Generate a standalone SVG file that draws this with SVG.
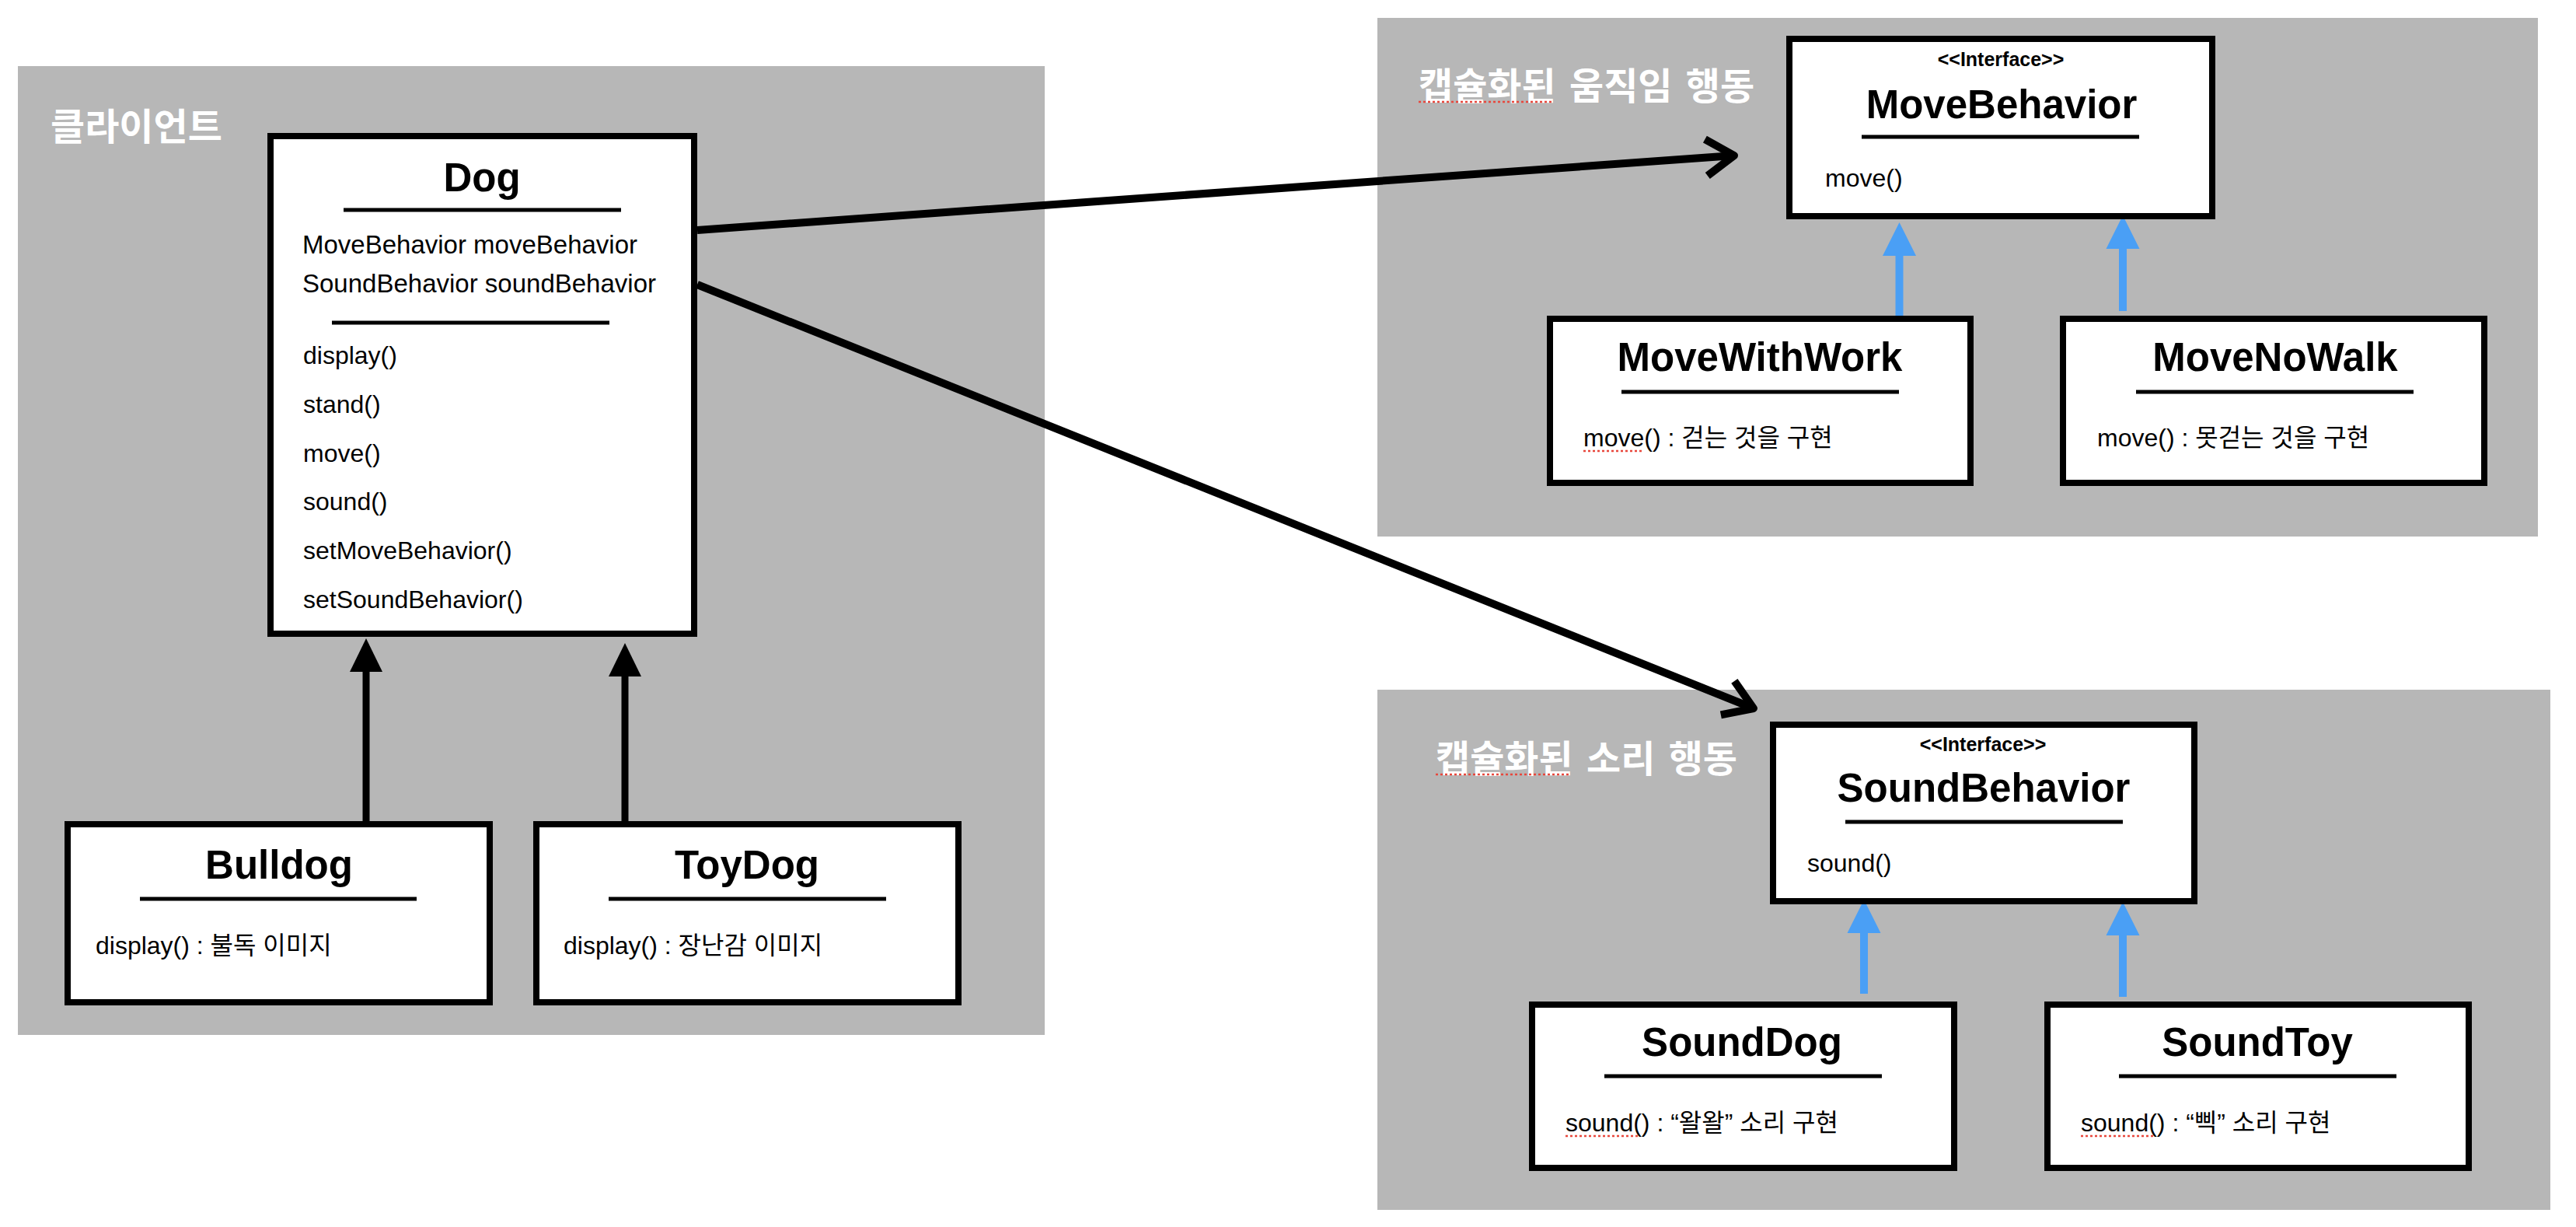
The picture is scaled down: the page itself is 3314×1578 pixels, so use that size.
<svg xmlns="http://www.w3.org/2000/svg" width="3314" height="1578" viewBox="0 0 3314 1578">
<style>
.panel{fill:#b7b7b7}
.box{fill:#fff;stroke:#000;stroke-width:8}
.rule{stroke:#000;stroke-width:5}
.t{font-family:"Liberation Sans","Noto Sans CJK KR",sans-serif;fill:#000}
.title{font-size:51px;font-weight:bold;text-anchor:middle}
.stereo{font-size:25px;font-weight:bold;text-anchor:middle}
.body{font-size:32px}
.attr{font-size:33px}
.label{font-family:"Liberation Sans","Noto Sans CJK KR",sans-serif;font-size:48px;font-weight:bold;fill:#fff;word-spacing:4px}
.sq{stroke:#e8473c;stroke-width:2.5;stroke-dasharray:3 3;fill:none}
.assoc{stroke:#000;stroke-width:10;fill:none}
.inh{stroke:#000;stroke-width:9}
.impl{stroke:#4a9ff5;stroke-width:10}
</style>
<defs>
<marker id="chev" markerUnits="userSpaceOnUse" orient="auto" overflow="visible" markerWidth="80" markerHeight="80">
<path d="M -36 -23.5 L 0 0 L -36 23.5" fill="none" stroke="#000" stroke-width="10" stroke-linejoin="round"/>
</marker>
<marker id="tri" markerUnits="userSpaceOnUse" orient="auto" overflow="visible" markerWidth="60" markerHeight="60">
<path d="M 0 -21 L 43 0 L 0 21 Z" fill="#000"/>
</marker>
<marker id="btri" markerUnits="userSpaceOnUse" orient="auto" overflow="visible" markerWidth="60" markerHeight="60">
<path d="M 0 -21.5 L 43 0 L 0 21.5 Z" fill="#4a9ff5"/>
</marker>
</defs>

<g id="panels">
<rect class="panel" x="23" y="85" width="1321" height="1246"/>
<rect class="panel" x="1772" y="23" width="1493" height="667"/>
<rect class="panel" x="1772" y="887" width="1509" height="669"/>
<text class="label" x="65" y="180">클라이언트</text>
<text class="label" x="1825" y="128">캡슐화된 움직임 행동</text>
<line class="sq" x1="1825" y1="131" x2="1998" y2="131"/>
<text class="label" x="1847" y="993">캡슐화된 소리 행동</text>
<line class="sq" x1="1847" y1="996" x2="2020" y2="996"/>
</g>

<g id="connectors">
<line class="assoc" x1="897" y1="296" x2="2231" y2="200" marker-end="url(#chev)"/>
<line class="assoc" x1="897" y1="366" x2="2256" y2="911" marker-end="url(#chev)"/>
<line class="inh" x1="471" y1="1056" x2="471" y2="864" marker-end="url(#tri)"/>
<line class="inh" x1="804" y1="1056" x2="804" y2="870" marker-end="url(#tri)"/>
<line class="impl" x1="2443.5" y1="409" x2="2443.5" y2="329" marker-end="url(#btri)"/>
<line class="impl" x1="2731" y1="400" x2="2731" y2="320" marker-end="url(#btri)"/>
<line class="impl" x1="2398" y1="1278" x2="2398" y2="1200" marker-end="url(#btri)"/>
<line class="impl" x1="2731" y1="1282" x2="2731" y2="1203" marker-end="url(#btri)"/>
</g>

<g id="Dog">
<rect class="box" x="348" y="175" width="545" height="640"/>
<text class="t title" x="620" y="246">Dog</text>
<line class="rule" x1="442" y1="270" x2="799" y2="270"/>
<text class="t attr" x="389" y="326">MoveBehavior moveBehavior</text>
<text class="t attr" x="389" y="376">SoundBehavior soundBehavior</text>
<line class="rule" x1="427" y1="415" x2="784" y2="415"/>
<text class="t body" x="390" y="468">display()</text>
<text class="t body" x="390" y="531">stand()</text>
<text class="t body" x="390" y="594">move()</text>
<text class="t body" x="390" y="656">sound()</text>
<text class="t body" x="390" y="719">setMoveBehavior()</text>
<text class="t body" x="390" y="782">setSoundBehavior()</text>
</g>

<g id="Bulldog">
<rect class="box" x="87" y="1060" width="543" height="229"/>
<text class="t title" x="359" y="1130">Bulldog</text>
<line class="rule" x1="180" y1="1156" x2="536" y2="1156"/>
<text class="t body" x="123" y="1227">display() : 불독 이미지</text>
</g>

<g id="ToyDog">
<rect class="box" x="690" y="1060" width="543" height="229"/>
<text class="t title" x="961" y="1130">ToyDog</text>
<line class="rule" x1="783" y1="1156" x2="1140" y2="1156"/>
<text class="t body" x="725" y="1227">display() : 장난감 이미지</text>
</g>

<g id="MoveBehavior">
<rect class="box" x="2302" y="50" width="544" height="228"/>
<text class="t stereo" x="2574" y="85">&lt;&lt;Interface&gt;&gt;</text>
<text class="t title" x="2575" y="152">MoveBehavior</text>
<line class="rule" x1="2395" y1="176" x2="2752" y2="176"/>
<text class="t body" x="2348" y="240">move()</text>
</g>

<g id="MoveWithWork">
<rect class="box" x="1994" y="410" width="541" height="211"/>
<text class="t title" x="2264" y="477">MoveWithWork</text>
<line class="rule" x1="2086" y1="504" x2="2443" y2="504"/>
<text class="t body" x="2037" y="574">move() : 걷는 것을 구현</text>
<line class="sq" x1="2037" y1="580" x2="2112" y2="580"/>
</g>

<g id="MoveNoWalk">
<rect class="box" x="2654" y="410" width="542" height="211"/>
<text class="t title" x="2927" y="477">MoveNoWalk</text>
<line class="rule" x1="2748" y1="504" x2="3105" y2="504"/>
<text class="t body" x="2698" y="574">move() : 못걷는 것을 구현</text>
</g>

<g id="SoundBehavior">
<rect class="box" x="2281" y="932" width="542" height="227"/>
<text class="t stereo" x="2551" y="966">&lt;&lt;Interface&gt;&gt;</text>
<text class="t title" x="2552" y="1031">SoundBehavior</text>
<line class="rule" x1="2374" y1="1057" x2="2731" y2="1057"/>
<text class="t body" x="2325" y="1121">sound()</text>
</g>

<g id="SoundDog">
<rect class="box" x="1971" y="1292" width="543" height="210"/>
<text class="t title" x="2241" y="1358">SoundDog</text>
<line class="rule" x1="2064" y1="1384" x2="2421" y2="1384"/>
<text class="t body" x="2014" y="1455">sound() : “왈왈” 소리 구현</text>
<line class="sq" x1="2014" y1="1461" x2="2107" y2="1461"/>
</g>

<g id="SoundToy">
<rect class="box" x="2634" y="1292" width="542" height="210"/>
<text class="t title" x="2904" y="1358">SoundToy</text>
<line class="rule" x1="2726" y1="1384" x2="3083" y2="1384"/>
<text class="t body" x="2677" y="1455">sound() : “삑” 소리 구현</text>
<line class="sq" x1="2677" y1="1461" x2="2771" y2="1461"/>
</g>
</svg>
